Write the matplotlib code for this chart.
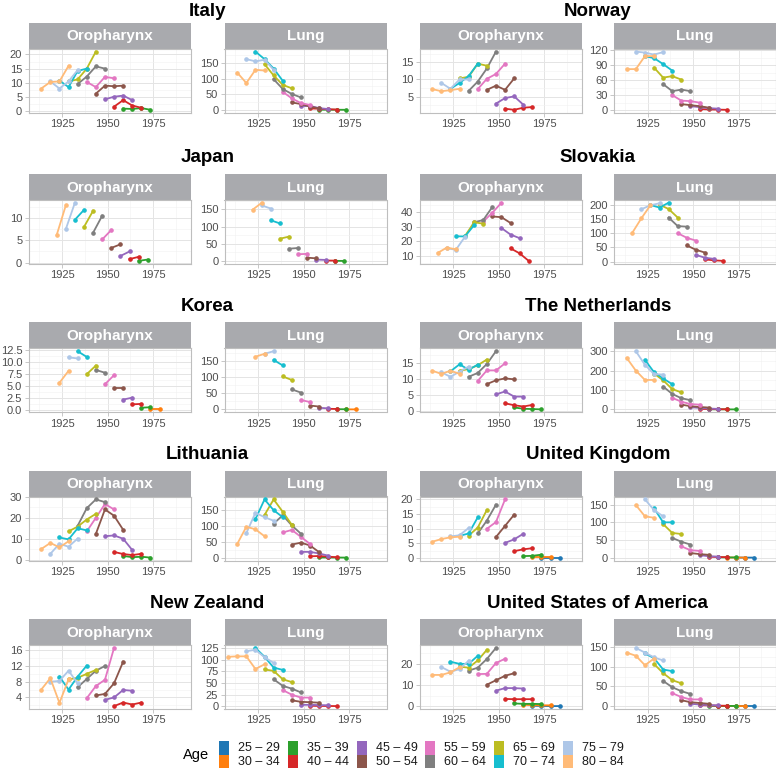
import numpy as np
import matplotlib
matplotlib.use("Agg")
import matplotlib.pyplot as plt
from matplotlib.patches import Rectangle

plt.rcParams['font.family'] = ['Liberation Sans', 'DejaVu Sans']

# age groups (lower bound) and their colours
AGE_LOWS = [25, 30, 35, 40, 45, 50, 55, 60, 65, 70, 75, 80]
AGE_LABELS = [f"{a} – {a + 4}" for a in AGE_LOWS]
COLORS = ['#1F77B4', '#FF7F0E', '#2CA02C', '#D62728', '#9467BD', '#8C564B',
          '#E377C2', '#7F7F7F', '#BCBD22', '#17BECF', '#AEC7E8', '#FFBB78']

COUNTRIES = ["Italy", "Norway", "Japan", "Slovakia", "Korea", "The Netherlands",
             "Lithuania", "United Kingdom", "New Zealand", "United States of America"]

# birth cohort of the first point of the 80-84 group (other ages shift by 5 years)
ORO_FIRST_COHORT = [1913.5, 1913.5, 1922, 1916.5, 1923.5, 1913.5, 1913.5, 1913.5, 1913.5, 1913.5]
LUNG_FIRST_COHORT = [1913.5, 1913.5, 1922, 1916.5, 1923.5, 1913.5, 1913.5, 1918.5, 1908.5, 1913.5]

ORO_TICKS = [[0, 5, 10, 15, 20], [5, 10, 15], [0, 5, 10], [10, 20, 30, 40],
             [0, 2.5, 5, 7.5, 10, 12.5], [0, 5, 10, 15], [0, 10, 20, 30],
             [0, 5, 10, 15, 20], [4, 8, 12, 16], [0, 10, 20]]
LUNG_TICKS = [[0, 50, 100, 150], [0, 30, 60, 90, 120], [0, 50, 100, 150],
              [0, 50, 100, 150, 200], [0, 50, 100, 150], [0, 100, 200, 300],
              [0, 50, 100, 150], [0, 50, 100, 150], [0, 25, 50, 75, 100, 125],
              [0, 50, 100, 150]]

# rates per 100,000 by age group (key = lower age bound), one value per period
ITALY_ORO = {35: [0.9, 0.8, 1.1, 0.5], 40: [1.6, 3.9, 2.0, 1.2], 45: [4.2, 5.1, 5.5, 3.9],
             50: [6.2, 9.0, 8.8, 9.0], 55: [10.3, 8.5, 12.1, 11.6], 60: [9.6, 12.2, 15.8, 15.0],
             65: [10.5, 11.2, 15.0, 21.0], 70: [10.8, 8.5, 14.2, 15.0], 75: [10.5, 8.0, 10.5, 14.5],
             80: [8.0, 10.3, 10.5, 16.0]}
ITALY_LUNG = {35: [1.0, 1.0, 0.8, 0.7], 40: [5, 4, 2.5, 1.5], 45: [12, 13, 6, 3],
              50: [24, 19, 11, 5], 55: [58, 37, 22, 16], 60: [98, 67, 51, 40],
              65: [146, 110, 80, 69], 70: [186, 162, 132, 93], 75: [162, 155, 160, 128],
              80: [119, 86, 128, 126]}

NORWAY_ORO = {40: [1.5, 1.2, 1.8, 2.0], 45: [3.0, 4.6, 5.1, 2.7], 50: [7.0, 8.2, 7.0, 10.3],
              55: [7.2, 10.2, 11.6, 14.6], 60: [6.7, 9.4, 13.2, 18.1], 65: [10.3, 10.8, 14.6, 14.0],
              70: [7.3, 9.0, 11.0, 14.6], 75: [9.0, 7.3, 10.0, 10.0], 80: [7.2, 6.6, 6.9, 7.3]}
NORWAY_LUNG = {40: [2.2, 1.5, 1.0, 0.7], 45: [8, 6, 4, 3], 50: [12, 10, 8, 5],
               55: [30, 19, 18, 15], 60: [52, 38, 41, 38], 65: [85, 65, 68, 61],
               70: [108, 104, 92, 79], 75: [117, 115, 111, 116], 80: [82, 82, 108, 108]}

JAPAN_ORO = {35: [0.4, 0.7], 40: [0.8, 1.3], 45: [1.5, 2.5], 50: [3.3, 4.1], 55: [5.2, 7.3],
             60: [6.7, 10.5], 65: [8.0, 11.6], 70: [9.6, 11.8], 75: [7.5, 13.4], 80: [6.2, 12.8]}
JAPAN_LUNG = {35: [0.8, 0.7], 40: [1.8, 1.5], 45: [4.5, 3.5], 50: [10, 8], 55: [20, 21],
              60: [36, 38], 65: [65, 71], 70: [118, 109], 75: [161, 152], 80: [149, 169]}

SLOVAKIA_ORO = {40: [15, 11.5, 6.3], 45: [29, 24.5, 22], 50: [37, 36.5, 32.5],
                55: [33.5, 39.5, 46.5], 60: [33, 34.5, 43.5], 65: [23.5, 33, 32],
                70: [23.3, 23.2, 31], 75: [15, 14, 23], 80: [11.8, 15.5, 14.3]}
SLOVAKIA_LUNG = {40: [8, 5, 3], 45: [24, 14, 10], 50: [57, 42, 32], 55: [100, 84, 74],
                 60: [155, 125, 123], 65: [200, 185, 155], 70: [199, 190, 207],
                 75: [184, 198, 205], 80: [101, 152, 198]}

KOREA_ORO = {30: [0.15, 0.15], 35: [0.5, 0.6], 40: [1.2, 1.3], 45: [2.2, 2.6], 50: [4.6, 4.6],
             55: [5.4, 7.3], 60: [8.4, 7.8], 65: [7.5, 9.3], 70: [12.3, 11.1], 75: [11.0, 10.8],
             80: [5.7, 8.2]}
KOREA_LUNG = {30: [0.3, 0.2], 35: [0.8, 0.6], 40: [2, 1.5], 45: [5, 3.5], 50: [12, 9],
              55: [29, 23], 60: [62, 52], 65: [102, 91], 70: [153, 136], 75: [172, 180],
              80: [163, 172]}

NETHERLANDS_ORO = {35: [1.0, 0.6, 0.5, 0.4], 40: [2.3, 1.7, 1.3, 1.8], 45: [5.1, 6.0, 4.4, 4.4],
                   50: [8.3, 9.5, 10.1, 9.8], 55: [9.3, 12.6, 12.6, 14.8], 60: [10.6, 11.8, 14.6, 18.6],
                   65: [12.5, 13, 14.2, 16], 70: [12.3, 14.5, 12.8, 14.4], 75: [12, 10.6, 12.2, 13.8],
                   80: [12.5, 11.5, 12.5, 11.5]}
NETHERLANDS_LUNG = {35: [1, 0.8, 0.6, 0.5], 40: [3, 2, 1.5, 1.2], 45: [12, 8, 5, 3],
                    50: [25, 17, 13, 10], 55: [60, 40, 28, 25], 60: [118, 80, 58, 48],
                    65: [185, 150, 105, 88], 70: [255, 192, 160, 130], 75: [300, 230, 182, 180],
                    80: [265, 200, 152, 152]}

LITHUANIA_ORO = {35: [1.8, 1.2, 1.4, 1.0], 40: [3.7, 2.7, 2.2, 2.8], 45: [11.2, 11.6, 10.0, 4.6],
                 50: [12.3, 24.0, 21.0, 14.3], 55: [13.5, 20.0, 26.6, 24.0], 60: [16.2, 24.6, 28.8, 27.5],
                 65: [13.5, 15.8, 19.2, 21.9], 70: [10.6, 9.7, 15.0, 14.0], 75: [2.8, 7.6, 6.2, 10.1],
                 80: [5.1, 8.0, 5.9, 8.8]}
LITHUANIA_LUNG = {35: [1.5, 1.3, 1.2, 1.0], 40: [5, 6, 4, 2], 45: [19, 19, 14, 7],
                  50: [42, 48, 39, 18], 55: [80, 88, 66, 44], 60: [108, 134, 102, 76],
                  65: [135, 184, 145, 104], 70: [122, 184, 150, 128], 75: [78, 142, 128, 117],
                  80: [44, 98, 90, 68]}

UK_ORO = {25: [None, 0.2, 0.2, 0.2], 30: [None, 0.3, 0.3, 0.3], 35: [None, 0.7, 0.8, 1.2],
          40: [None, 2.4, 3.0, 3.4], 45: [None, 5.2, 6.4, 8.3], 50: [None, 7.2, 11.0, 14.8],
          55: [None, 10.0, 12.3, 20.0], 60: [None, 8.4, 12.8, 18.2], 65: [None, 7.7, 10.4, 16.4],
          70: [None, 7.6, 8.4, 13.9], 75: [None, 7.4, 7.8, 10.3], 80: [5.6, 6.5, 7.1, 7.3]}
UK_LUNG = {25: [0.15, 0.1, 0.1], 30: [0.3, 0.25, 0.2], 35: [0.8, 0.6, 0.5], 40: [2.5, 1.8, 1.3],
           45: [7, 4, 3], 50: [13, 10, 8], 55: [32, 21, 19], 60: [56, 45, 37],
           65: [95, 70, 67], 70: [140, 100, 100], 75: [165, 135, 117], 80: [149, 117, 113]}

NZ_ORO = {40: [1.8, 2.7, 2.2, 2.7], 45: [3.4, 4.0, 5.9, 5.7], 50: [4.5, 4.9, 7.6, 13.1],
          55: [3.8, 6.9, 8.5, 16.6], 60: [6.6, 8.7, 10.8, 12.0], 65: [8.6, 9.0, 10.0, 11.0],
          70: [9.3, 6.0, 9.3, 12.1], 75: [8.0, 8.2, 10.8, 7.6], 80: [6.0, 8.9, 2.6, 8.6]}
NZ_LUNG = {40: [None, 1.5, 1.2, 1.0, 0.8], 45: [None, 3.5, 3.5, 3, 2.5], 50: [None, 13, 10, 9, 8],
           55: [None, 35, 25, 19, 19], 60: [None, 58, 44, 38, 30], 65: [None, 79, 76, 58, 52],
           70: [None, 125, 106, 83, 78], 75: [None, 118, 121, 105, 93], 80: [106, 107, 107, 80, 90]}

USA_ORO = {25: [0.3, 0.2, 0.15, 0.15], 30: [0.8, 0.6, 0.5, 0.5], 35: [1.4, 1.2, 1.2, 1.1],
           40: [3.5, 3.4, 3.4, 3.4], 45: [7.4, 8.6, 8.6, 8.4], 50: [10.2, 12.3, 14.4, 15.6],
           55: [15.2, 15.3, 20.4, 22.4], 60: [16.8, 18.2, 22.3, 27.5], 65: [18.7, 18.2, 21.6, 26.6],
           70: [21.0, 20.0, 20.0, 23.8], 75: [18.5, 16.3, 17.5, 21.5], 80: [14.8, 14.8, 16.0, 18.4]}
USA_LUNG = {25: [0.1, 0.1, 0.1, 0.1], 30: [0.3, 0.25, 0.2, 0.2], 35: [0.8, 0.6, 0.5, 0.4],
            40: [2.5, 1.8, 1.2, 1.0], 45: [6, 4, 2.5, 2], 50: [15, 10, 8, 6], 55: [33, 23, 17, 17],
            60: [64, 48, 38, 31], 65: [107, 84, 66, 58], 70: [134, 122, 93, 89],
            75: [148, 136, 124, 116], 80: [136, 128, 104, 121]}

ORO_DATA = [ITALY_ORO, NORWAY_ORO, JAPAN_ORO, SLOVAKIA_ORO, KOREA_ORO, NETHERLANDS_ORO,
            LITHUANIA_ORO, UK_ORO, NZ_ORO, USA_ORO]
LUNG_DATA = [ITALY_LUNG, NORWAY_LUNG, JAPAN_LUNG, SLOVAKIA_LUNG, KOREA_LUNG, NETHERLANDS_LUNG,
             LITHUANIA_LUNG, UK_LUNG, NZ_LUNG, USA_LUNG]

### layout (pixels) ###
W, H = 776, 770
ROW_TOP = [22.7, 173.8, 322.3, 470.5, 619.0]   # top of strips
STRIP_H = 26
PANEL_H = 64
COL_X = [(28.5, 224.5), (419.5, 614)]          # left edge of oro / lung panels
PANEL_W = 162
TITLE_BASE = [15.5, 162.5, 311, 459.5, 608]
XLIM = (1906.5, 1995.5)

STRIP_COLOR = '#A9AAAE'
BORDER = '#BEBEBE'
GRID = '#E4E4E4'


def box(x0, y0, w, h):
    return [x0 / W, 1 - (y0 + h) / H, w / W, h / H]


def draw_panel(x0, top, site, data, first, ticks):
    strip = fig.add_axes(box(x0, top, PANEL_W, STRIP_H))
    strip.set_facecolor(STRIP_COLOR)
    strip.set_xticks([])
    strip.set_yticks([])
    for s in strip.spines.values():
        s.set_visible(False)
    strip.text(0.5, 0.47, site, color='white', fontsize=11, fontweight='bold',
               ha='center', va='center', transform=strip.transAxes)

    ax = fig.add_axes(box(x0, top + STRIP_H, PANEL_W, PANEL_H))
    allv = []
    for k, low in enumerate(AGE_LOWS):
        if low not in data:
            continue
        vals = np.array(data[low], dtype=float)
        start = first + (80 - low)
        xs = start + 5 * np.arange(len(vals))
        ax.plot(xs, vals, color=COLORS[k], lw=1.3, marker='o', ms=2.3, zorder=3)
        allv.extend(vals[~np.isnan(vals)])
    lo, hi = min(allv), max(allv)
    pad = (hi - lo) * 0.05
    ax.set_ylim(lo - pad, hi + pad)
    ax.set_xlim(*XLIM)

    ax.set_xticks([1925, 1950, 1975])
    ax.set_xticks([1912.5, 1937.5, 1962.5, 1987.5], minor=True)
    ax.set_yticks(ticks)
    if all(float(t).is_integer() for t in ticks):
        ax.set_yticklabels([str(int(t)) for t in ticks])
    else:
        ax.set_yticklabels([f"{t:.1f}" for t in ticks])
    step = ticks[1] - ticks[0]
    minors = [ticks[0] - step / 2] + [t + step / 2 for t in ticks]
    ax.set_yticks(minors, minor=True)
    ax.set_ylim(lo - pad, hi + pad)

    ax.grid(which='major', color=GRID, lw=0.7)
    ax.grid(which='minor', color='#F1F1F1', lw=0.4)
    ax.set_axisbelow(True)
    ax.tick_params(which='major', labelsize=8, labelcolor='#4D4D4D', color=BORDER,
                   length=3, width=0.6, pad=1.5)
    ax.tick_params(which='minor', length=0)
    for s in ax.spines.values():
        s.set_color(BORDER)
        s.set_linewidth(0.8)


fig = plt.figure(figsize=(W / 100, H / 100), dpi=100)

for i, country in enumerate(COUNTRIES):
    row, col = i // 2, i % 2
    top = ROW_TOP[row]
    xo, xl = COL_X[col]
    draw_panel(xo, top, "Oropharynx", ORO_DATA[i], ORO_FIRST_COHORT[i], ORO_TICKS[i])
    draw_panel(xl, top, "Lung", LUNG_DATA[i], LUNG_FIRST_COHORT[i], LUNG_TICKS[i])
    cx = (xo + xl + PANEL_W) / 2
    fig.text(cx / W, 1 - TITLE_BASE[row] / H, country, fontsize=13.5, fontweight='bold',
             ha='center', va='baseline')

# legend
leg = fig.add_axes([0, 0, 1, 1], facecolor='none')
leg.set_xlim(0, W)
leg.set_ylim(H, 0)
leg.axis('off')
leg.text(183, 755, "Age", fontsize=10.5, ha='left', va='center', color='black')
key_x = [219, 288, 356.5, 425, 494, 563]
for k, lab in enumerate(AGE_LABELS):
    c, r = k // 2, k % 2
    y0 = 741 + r * 13.7
    leg.add_patch(Rectangle((key_x[c], y0), 10, 13.7, facecolor=COLORS[k], edgecolor='none'))
    leg.text(key_x[c] + 19, y0 + 7, lab, fontsize=9, ha='left', va='center', color='#1A1A1A')

fig.savefig("out.png", dpi=100)
